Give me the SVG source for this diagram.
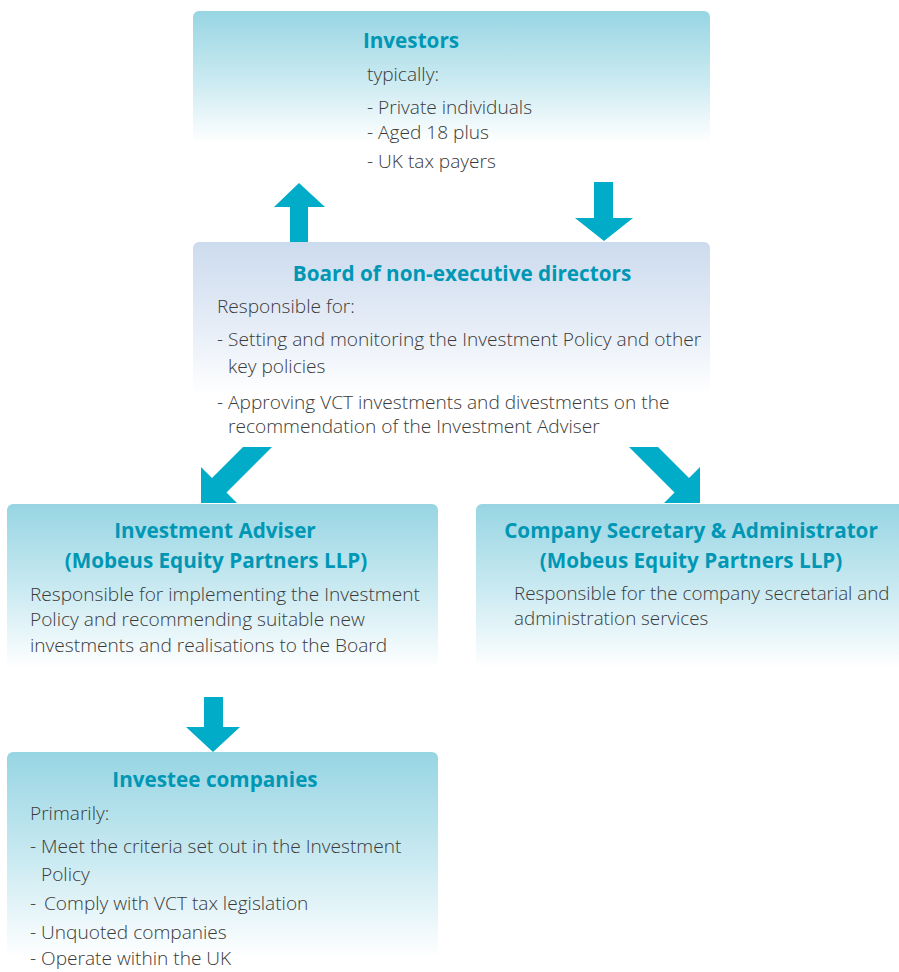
<svg xmlns="http://www.w3.org/2000/svg" width="899" height="972" viewBox="0 0 899 972">
<defs>
<linearGradient id="gBlue" x1="0" y1="0" x2="0" y2="1">
<stop offset="0" stop-color="#97d5e3"/>
<stop offset="0.55" stop-color="#cdebf2"/>
<stop offset="1" stop-color="#ffffff"/>
</linearGradient>
<linearGradient id="gLav" x1="0" y1="0" x2="0" y2="1">
<stop offset="0" stop-color="#ccdbee"/>
<stop offset="0.55" stop-color="#e6edf7"/>
<stop offset="1" stop-color="#ffffff"/>
</linearGradient>
<style>
.title{font-family:"Open Sans","Liberation Sans",sans-serif;font-weight:700;font-size:20.7px;fill:#0097b5;text-anchor:middle}
.body{font-family:"Open Sans","Liberation Sans",sans-serif;font-weight:300;font-size:19.1px;fill:#3a3a3a}
.arrow{fill:#00acc8}
</style>
</defs>
<rect width="899" height="972" fill="#ffffff"/>

<g id="investors">
<rect x="193" y="11" width="517" height="132" rx="6" fill="url(#gBlue)"/>
<text class="title" x="411" y="48">Investors</text>
<text class="body" x="367" y="81">typically:</text>
<text class="body" x="367" y="114">- Private individuals</text>
<text class="body" x="367" y="139">- Aged 18 plus</text>
<text class="body" x="367" y="168">- UK tax payers</text>
</g>

<g id="board">
<rect x="193" y="242" width="517" height="153" rx="6" fill="url(#gLav)"/>
<text class="title" x="462" y="281">Board of non-executive directors</text>
<text class="body" x="217" y="313">Responsible for:</text>
<text class="body" x="217" y="346">- Setting and monitoring the Investment Policy and other</text>
<text class="body" x="228" y="373">key policies</text>
<text class="body" x="217" y="409">- Approving VCT investments and divestments on the</text>
<text class="body" x="228" y="433">recommendation of the Investment Adviser</text>
</g>

<g id="adviser">
<rect x="7" y="504" width="431" height="164" rx="6" fill="url(#gBlue)"/>
<text class="title" x="215" y="538">Investment Adviser</text>
<text class="title" x="216" y="568">(Mobeus Equity Partners LLP)</text>
<text class="body" x="30" y="601">Responsible for implementing the Investment</text>
<text class="body" x="30" y="626">Policy and recommending suitable new</text>
<text class="body" x="30" y="652">investments and realisations to the Board</text>
</g>

<g id="secretary">
<rect x="476" y="504" width="430" height="164" rx="6" fill="url(#gBlue)"/>
<text class="title" x="691" y="538">Company Secretary &amp; Administrator</text>
<text class="title" x="691" y="568">(Mobeus Equity Partners LLP)</text>
<text class="body" x="514" y="600" style="font-size:18.8px">Responsible for the company secretarial and</text>
<text class="body" x="514" y="625" style="font-size:18.8px">administration services</text>
</g>

<g id="investee">
<rect x="7" y="752" width="431" height="206" rx="6" fill="url(#gBlue)"/>
<text class="title" x="215" y="787">Investee companies</text>
<text class="body" x="30" y="820">Primarily:</text>
<text class="body" x="30" y="853">- Meet the criteria set out in the Investment</text>
<text class="body" x="41" y="881">Policy</text>
<text class="body" x="30" y="910">- <tspan x="44">Comply with VCT tax legislation</tspan></text>
<text class="body" x="30" y="939">- Unquoted companies</text>
<text class="body" x="30" y="965">- Operate within the UK</text>
</g>

<g id="connectors">
<polygon class="arrow" points="299,183 325,207 308,207 308,242 290,242 290,207 274,207"/>
<polygon class="arrow" points="594,182 613,182 613,218 633,218 604,241 575,218 594,218"/>
<polygon class="arrow" points="272,447 226.5,492.5 237,503 201,503 201,467 212,478 243,447"/>
<polygon class="arrow" points="629,447 674.5,492.5 664,503 700,503 700,467 689,478 658,447"/>
<polygon class="arrow" points="204,697 223,697 223,727 240,727 213,752 186,727 204,727"/>
</g>
</svg>
